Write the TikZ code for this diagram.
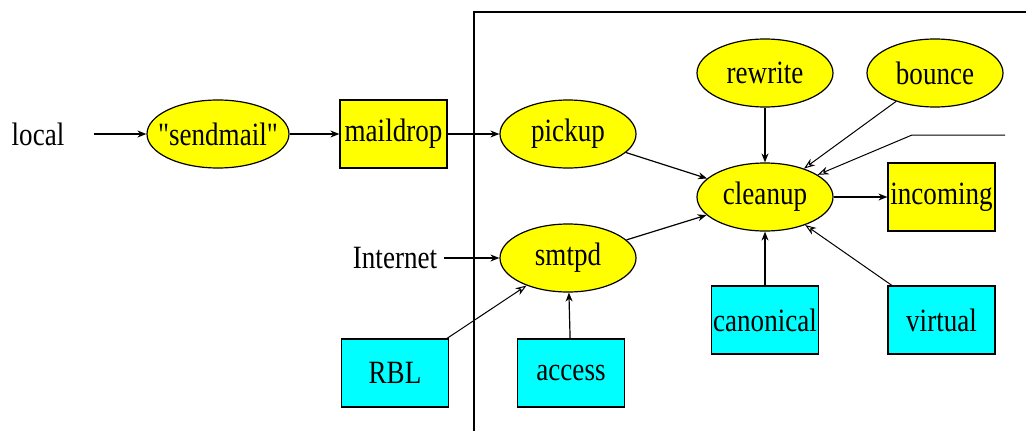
\documentclass[tikz,border=0pt]{standalone}
\usepackage{graphicx}
\usepackage{fontspec}
% plain family without TeX ligature mapping, so " stays a straight quote
\newfontfamily\labelfont{Liberation Serif}
\usetikzlibrary{shapes.geometric,arrows.meta}

\definecolor{queueyellow}{RGB}{255,255,0}
\definecolor{tablecyan}{RGB}{0,255,255}

% Tall lettering for all labels
\newcommand{\tallText}[1]{\scalebox{1.04}[1.25]{#1}}

\begin{document}
\begin{tikzpicture}[x=1pt,y=-1pt,
  txt/.style={font=\labelfont\fontsize{26}{28}\selectfont},
  daemon/.style={ellipse,draw,fill=queueyellow,line width=1.2pt,
    minimum width=136pt,minimum height=68pt,inner sep=0pt,txt},
  queuebox/.style={rectangle,draw,fill=queueyellow,line width=1.2pt,
    minimum width=107pt,minimum height=68pt,inner sep=0pt,txt},
  maptable/.style={rectangle,draw,fill=tablecyan,line width=1.2pt,
    minimum width=107pt,minimum height=68pt,inner sep=0pt,txt},
  extlabel/.style={inner sep=2pt,txt},
  flow/.style={line width=1.2pt,-{Stealth[length=9pt,width=7pt]}},
  lookup/.style={line width=1pt,-{Stealth[open,length=11pt,width=8pt]}}
]
\useasboundingbox[fill=white] (0,0) rectangle (1026,431);

% frame around the postfix system
\draw[line width=1.5pt] (474,431) -- (474,12) -- (1026,12);

% outside sources
\node[extlabel] (local) at (38,134) {\tallText{local}};
\node[extlabel] (internet) at (395,258) {\tallText{Internet}};

% processes and queues (the wide sendmail label is boxed narrower so the
% ellipse keeps its fixed size)
\node[daemon,minimum width=142pt] (sendmail) at (218,134)
  {\makebox[95pt]{\tallText{"sendmail"}}};
\node[queuebox] (maildrop) at (393.5,134) {\tallText{maildrop}};
\node[daemon] (pickup) at (568,134) {\tallText{pickup}};
\node[daemon] (rewrite) at (765,73) {\tallText{rewrite}};
\node[daemon] (bounce) at (935,73) {\tallText{bounce}};
\node[daemon] (cleanup) at (765,197) {\tallText{cleanup}};
\node[queuebox] (incoming) at (941.5,197) {\tallText{incoming}};
\node[daemon] (smtpd) at (568,258) {\tallText{smtpd}};

% lookup tables
\node[maptable] (rbl) at (395,373) {\tallText{RBL}};
\node[maptable] (access) at (571,373) {\tallText{access}};
\node[maptable] (canonical) at (765,320) {\tallText{canonical}};
\node[maptable] (virtual) at (941.5,320) {\tallText{virtual}};

% mail flow
\draw[flow,shorten <=28pt] (local) -- (sendmail);
\draw[flow] (sendmail) -- (maildrop);
\draw[flow] (maildrop) -- (pickup);
\draw[flow,shorten <=5pt] (internet) -- (smtpd);
\draw[flow] (pickup) -- (cleanup);
\draw[flow] (smtpd) -- (cleanup);
\draw[flow] (rewrite) -- (cleanup);
\draw[flow] (cleanup) -- (incoming);
\draw[flow] (access) -- (smtpd);
\draw[flow] (canonical) -- (cleanup);

% notifications and table lookups
\coordinate (ext) at (1005,135);
\coordinate (bend) at (912,135);
\draw[lookup] (bounce) -- (cleanup);
\draw[lookup] (ext) -- (bend) -- (cleanup);
\draw[lookup] (virtual) -- (cleanup);
\draw[lookup] (rbl) -- (smtpd);
\end{tikzpicture}
\end{document}
